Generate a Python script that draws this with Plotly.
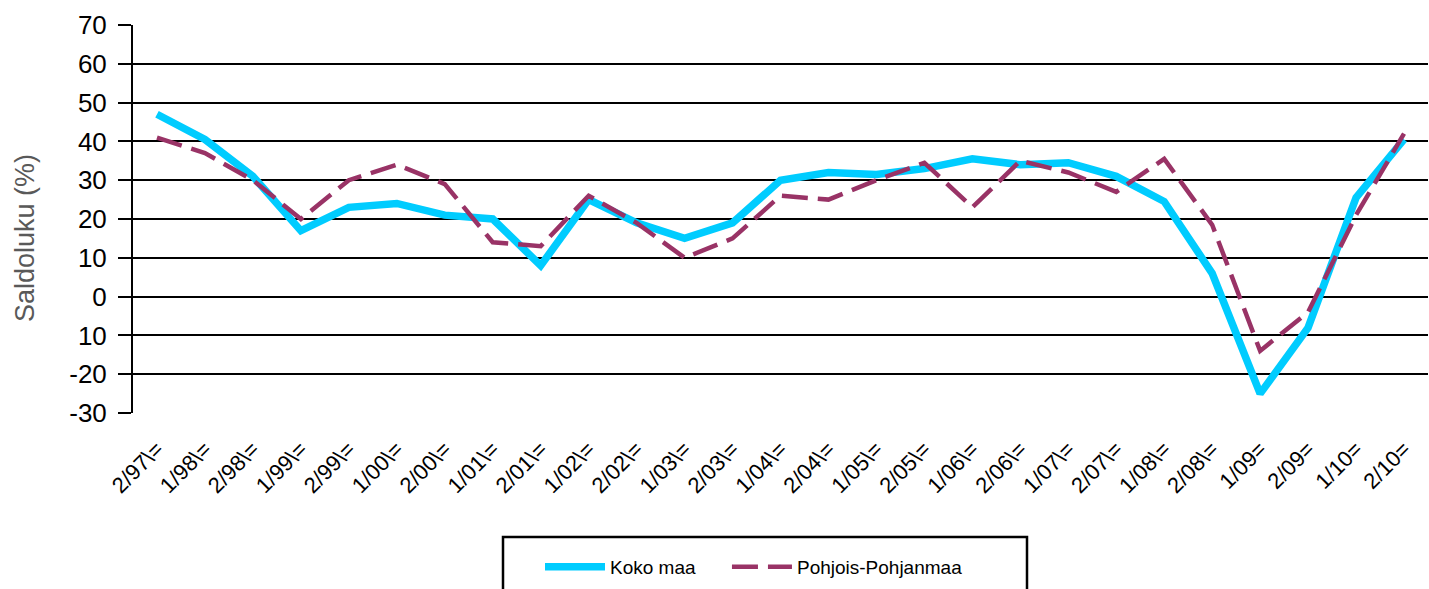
import plotly.graph_objects as go

categories = ["2/97\\=", "1/98\\=", "2/98\\=", "1/99\\=", "2/99\\=", "1/00\\=", "2/00\\=",
              "1/01\\=", "2/01\\=", "1/02\\=", "2/02\\=", "1/03\\=", "2/03\\=", "1/04\\=",
              "2/04\\=", "1/05\\=", "2/05\\=", "1/06\\=", "2/06\\=", "1/07\\=", "2/07\\=",
              "1/08\\=", "2/08\\=", "1/09=", "2/09=", "1/10=", "2/10="]

koko_maa = [47, 40.5, 31, 17, 23, 24, 21, 20, 8, 25, 19, 15, 19, 30, 32, 31.5, 33,
            35.5, 34, 34.5, 31, 24.5, 6, -25, -8, 25.5, 40.5]
pohjois_pohjanmaa = [41, 37, 30, 20, 30, 34, 29, 14, 13, 26, 19, 10, 15, 26, 25, 30,
                     34.5, 23, 35, 32, 27, 35.5, 18.5, -14, -4, 21, 42]

y_tickvals = [70, 60, 50, 40, 30, 20, 10, 0, -10, -20, -30]
y_ticktext = ["70", "60", "50", "40", "30", "20", "10", "0", "10", "-20", "-30"]

W, H = 1429, 589
L, R, T, B = 133, 1, 25, 176
PW, PH = W - L - R, H - T - B


def px_x(p):
    return (p - L) / PW


def px_y(p):
    return (H - B - p) / PH


fig = go.Figure()
fig.add_trace(go.Scatter(x=categories, y=koko_maa, mode="lines",
                         name="Koko maa" + "\u00a0" * 5,
                         line=dict(color="#00CCFF", width=7.5)))
fig.add_trace(go.Scatter(x=categories, y=pohjois_pohjanmaa, mode="lines",
                         name="Pohjois-Pohjanmaa",
                         line=dict(color="#993366", width=4.5, dash="26px,10px")))

fig.add_shape(type="rect", xref="paper", yref="paper",
              x0=px_x(503), x1=px_x(1027), y0=px_y(600), y1=px_y(537),
              line=dict(color="black", width=2.5), fillcolor="rgba(0,0,0,0)",
              layer="above")

fig.add_annotation(text="Saldoluku (%)", xref="paper", yref="paper",
                   x=px_x(25), y=px_y(238), xanchor="center", yanchor="middle",
                   textangle=-90, showarrow=False,
                   font=dict(size=27, color="#595959"))

fig.update_layout(
    width=W, height=H,
    margin=dict(l=L, r=R, t=T, b=B),
    paper_bgcolor="white", plot_bgcolor="white",
    font=dict(family="Liberation Sans, Arial", color="black"),
    showlegend=True,
    legend=dict(orientation="h", x=px_x(540), xanchor="left", y=px_y(548), yanchor="top",
                borderwidth=0, bgcolor="rgba(0,0,0,0)",
                font=dict(size=19), itemwidth=60),
    xaxis=dict(type="category", tickangle=-45, tickfont=dict(size=22),
               showgrid=False, showline=False, ticks="", zeroline=False,
               automargin=False, ticklabelstandoff=18,
               range=[-0.5, len(categories) - 0.5]),
    yaxis=dict(range=[-30, 70], tickvals=y_tickvals, ticktext=y_ticktext,
               tickfont=dict(size=26), showgrid=True, gridcolor="black", gridwidth=2,
               showline=True, linecolor="black", linewidth=2,
               ticks="outside", ticklen=13, tickwidth=2, tickcolor="black",
               ticklabelstandoff=6,
               zeroline=False, automargin=False),
)

fig.write_html("out.html", config={"displayModeBar": False},
               post_script="document.body.style.margin='0';"
                           "document.body.style.overflow='hidden';")
